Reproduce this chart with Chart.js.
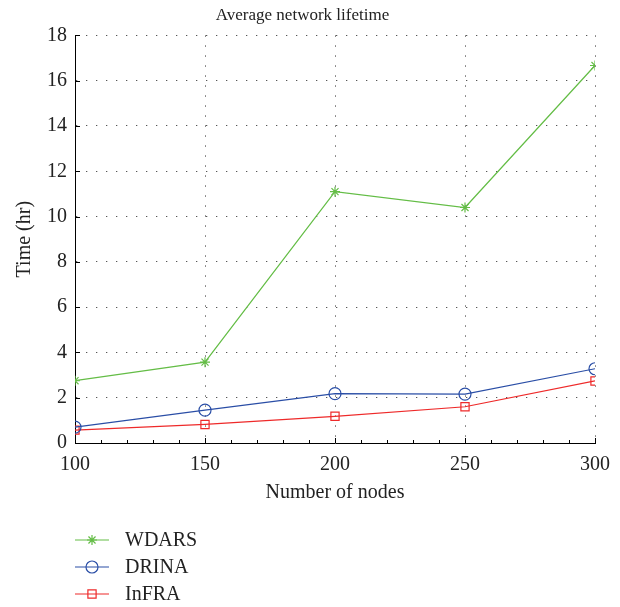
<!DOCTYPE html>
<html>
<head>
<meta charset="utf-8">
<script src="https://cdn.jsdelivr.net/npm/chart.js@4.4.1/dist/chart.umd.min.js"></script>
<style>
  body { margin: 0; background: #fff; }
  #wrap { width: 620px; height: 607px; }
</style>
</head>
<body>
<div id="wrap"><canvas id="lifetime"></canvas></div>
<script>
// data
const nodes = [100, 150, 200, 250, 300];
const wdars = [2.75, 3.57, 11.1, 10.4, 16.67];
const drina = [0.7, 1.45, 2.18, 2.16, 3.28];
const infra = [0.57, 0.82, 1.18, 1.6, 2.74];
const seriesNames = ['WDARS', 'DRINA', 'InFRA'];
const yTicks = [0, 2, 4, 6, 8, 10, 12, 14, 16, 18];

const serif = "'Liberation Serif', 'DejaVu Serif', serif";

function pts(values) {
  return nodes.map((n, i) => ({ x: n, y: values[i] }));
}

// inward major / minor tick marks like the original plot
const tickMarks = {
  id: 'tickMarks',
  afterDraw(chart) {
    const ctx = chart.ctx;
    const a = chart.chartArea;
    const xs = chart.scales.x, ys = chart.scales.y;
    ctx.save();
    ctx.strokeStyle = '#000';
    ctx.lineWidth = 1;
    ctx.beginPath();
    for (let v = 100; v <= 300; v += 10) {
      const px = Math.round(xs.getPixelForValue(v)) + 0.5;
      const len = (v % 50 === 0) ? 5 : 3;
      ctx.moveTo(px, a.bottom);
      ctx.lineTo(px, a.bottom - len);
    }
    yTicks.forEach(v => {
      const py = Math.round(ys.getPixelForValue(v)) + 0.5;
      ctx.moveTo(a.left, py);
      ctx.lineTo(a.left + 5, py);
    });
    ctx.stroke();
    ctx.restore();
  }
};

// vertical legend under the axis, line with marker in the middle
const stackLegend = {
  id: 'stackLegend',
  afterDraw(chart) {
    const ctx = chart.ctx;
    const x0 = 75, x1 = 109, tx = 125;
    let y = 540;
    chart.data.datasets.forEach(ds => {
      ctx.save();
      ctx.strokeStyle = ds.borderColor;
      ctx.fillStyle = 'rgba(0,0,0,0)';
      ctx.lineWidth = 1.2;
      ctx.beginPath();
      ctx.moveTo(x0, y);
      ctx.lineTo(x1, y);
      ctx.stroke();
      Chart.helpers.drawPoint(ctx, {
        pointStyle: ds.pointStyle,
        radius: ds.pointRadius,
        borderWidth: ds.pointBorderWidth
      }, (x0 + x1) / 2, y);
      ctx.fillStyle = '#222';
      ctx.font = '20px ' + serif;
      ctx.textBaseline = 'middle';
      ctx.fillText(ds.label, tx, y + 1);
      ctx.restore();
      y += 27;
    });
  }
};

function series(name, values, color, style, r) {
  return {
    label: name,
    data: pts(values),
    borderColor: color,
    backgroundColor: 'rgba(0,0,0,0)',
    borderWidth: 1.2,
    pointStyle: style,
    pointRadius: r,
    pointHoverRadius: r,
    pointBorderColor: color,
    pointBackgroundColor: 'rgba(0,0,0,0)',
    pointBorderWidth: 1.2,
    tension: 0
  };
}

const dots = [1.3, 8.7];

const ctx = document.getElementById('lifetime');
new Chart(ctx, {
  type: 'line',
  data: {
    datasets: [
      series(seriesNames[0], wdars, '#64bd46', 'star', 5),
      series(seriesNames[1], drina, '#2a4ea6', 'circle', 6),
      series(seriesNames[2], infra, '#ee2a2a', 'rect', 5.8)
    ]
  },
  options: {
    responsive: true,
    maintainAspectRatio: false,
    animation: false,
    layout: { padding: { top: 2, right: 24, bottom: 98, left: 9 } },
    plugins: {
      legend: { display: false },
      tooltip: { enabled: false },
      title: {
        display: true,
        text: 'Average network lifetime',
        color: '#222',
        font: { family: serif, size: 17, weight: 'normal' },
        padding: { top: 3, bottom: 10 }
      }
    },
    scales: {
      x: {
        type: 'linear',
        min: 100,
        max: 300,
        afterFit: s => { s.height = 66; },
        ticks: { stepSize: 50, color: '#222', font: { family: serif, size: 20 }, padding: 10 },
        grid: { color: '#555', lineWidth: 1, drawTicks: false },
        border: { display: true, color: '#000', width: 1, dash: dots },
        title: { display: true, text: 'Number of nodes', color: '#222',
                 font: { family: serif, size: 20 }, padding: { top: 10 } }
      },
      y: {
        min: 0,
        max: 18,
        afterFit: s => { s.width = 66; },
        ticks: { stepSize: 2, color: '#222', font: { family: serif, size: 20 }, padding: 8 },
        grid: { color: '#555', lineWidth: 1, drawTicks: false },
        border: { display: true, color: '#000', width: 1, dash: dots },
        title: { display: true, text: 'Time (hr)', color: '#222',
                 font: { family: serif, size: 20 }, padding: { bottom: 4 } }
      }
    }
  },
  plugins: [tickMarks, stackLegend]
});
</script>
</body>
</html>
